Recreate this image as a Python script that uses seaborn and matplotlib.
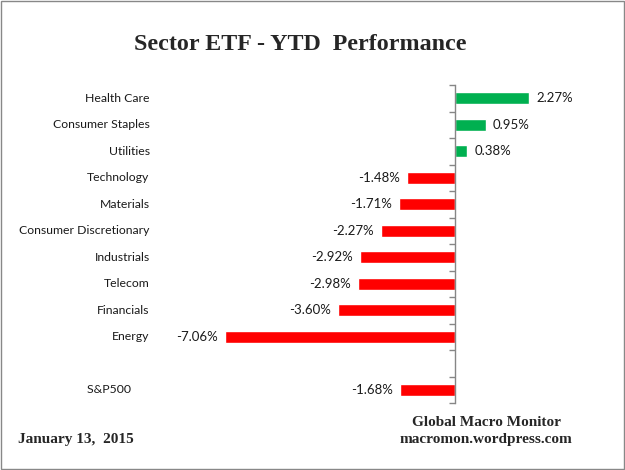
import pandas as pd
import matplotlib.pyplot as plt
import seaborn as sns
from matplotlib.transforms import blended_transform_factory

sectors = ['Health Care', 'Consumer Staples', 'Utilities', 'Technology', 'Materials',
           'Consumer Discretionary', 'Industrials', 'Telecom', 'Financials', 'Energy',
           'S&P500']
ytd = [2.27, 0.95, 0.38, -1.48, -1.71, -2.27, -2.92, -2.98, -3.60, -7.06, -1.68]

# S&P500 sits one row below the sectors, leaving a blank row
pos = list(range(len(sectors) - 1)) + [len(sectors)]
df = pd.DataFrame({'sector': sectors, 'ytd': ytd, 'pos': pos})
colors = {s: ('#00B050' if v > 0 else '#FF0000') for s, v in zip(sectors, ytd)}

sns.set_style('white')
plt.rcParams['font.family'] = ['Lato', 'DejaVu Sans']

fig = plt.figure(figsize=(6.25, 4.7), dpi=100)
ax = fig.add_axes([155 / 625, (470 - 403) / 470, 445 / 625, 318 / 470])

sns.barplot(data=df, x='ytd', y='pos', hue='sector', palette=colors, orient='h',
            native_scale=True, width=0.47, legend=False, saturation=1, ax=ax)

ax.set_xlim(-(455 - 155) / 32.6, (600 - 455) / 32.6)
ax.set_ylim(11.5, -0.5)

for side in ['top', 'right', 'bottom']:
    ax.spines[side].set_visible(False)
ax.spines['left'].set_position(('data', 0))
ax.spines['left'].set_color('#868686')
ax.spines['left'].set_linewidth(1)
ax.set_xticks([])
ax.set_yticks([p - 0.5 for p in range(12)] + [11.5])
ax.set_yticklabels([])
ax.tick_params(axis='y', length=4, width=1, color='#868686', direction='out', left=True)
ax.set_xlabel('')
ax.set_ylabel('')

for c in ax.containers:
    ax.bar_label(c, fmt='%.2f%%', padding=5, fontsize=9.5, color='#1a1a1a')

tr = blended_transform_factory(ax.transAxes, ax.transData)
for s, p in zip(sectors, pos):
    lab = s + '      ' if s == 'S&P500' else s
    ax.text(-0.012, p, lab, transform=tr, ha='right', va='center', fontsize=8.8,
            color='#1a1a1a')

serif = ['Liberation Serif', 'DejaVu Serif']
fig.text(0.48, 1 - 45 / 470, 'Sector ETF - YTD  Performance', ha='center', va='center',
         fontsize=17.3, fontweight='bold', family=serif)
fig.text(18 / 625, 1 - 439 / 470, 'January 13,  2015', ha='left', va='center',
         fontsize=11, fontweight='bold', family=serif)
fig.text(486 / 625, 1 - 422 / 470, 'Global Macro Monitor', ha='center', va='center',
         fontsize=11, fontweight='bold', family=serif)
fig.text(486 / 625, 1 - 440 / 470, 'macromon.wordpress.com', ha='center', va='center',
         fontsize=11, fontweight='bold', family=serif)

border = plt.Rectangle((0.001, 0.002), 0.997, 0.996, transform=fig.transFigure,
                       fill=False, edgecolor='#888888', linewidth=1)
fig.patches.append(border)

fig.savefig('out.png', dpi=100)
